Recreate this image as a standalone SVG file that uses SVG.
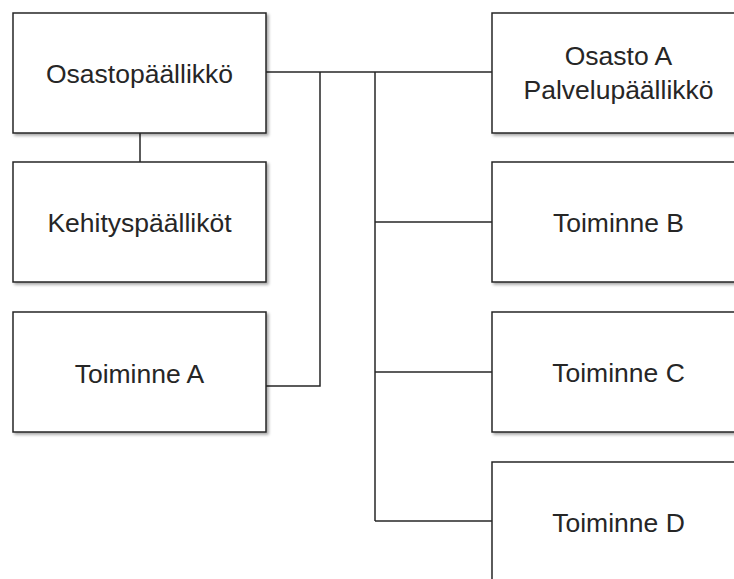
<svg xmlns="http://www.w3.org/2000/svg" width="734" height="579" viewBox="0 0 734 579">
  <style>
    .box { fill: #ffffff; stroke: #262626; stroke-width: 1.5; filter: url(#shadow); }
    .lbl { font-family: "Liberation Sans", Arial, sans-serif; font-size: 26.5px; fill: #262626; text-anchor: middle; }
    .wire { fill: none; stroke: #262626; stroke-width: 1.5; }
  </style>
  <defs>
    <filter id="shadow" x="-10%" y="-10%" width="130%" height="130%">
      <feDropShadow dx="2" dy="2" stdDeviation="1.5" flood-color="#000000" flood-opacity="0.35"/>
    </filter>
  </defs>
  <rect width="734" height="579" fill="#ffffff"/>

  <g id="connectors">
    <path class="wire" d="M140 133 V162"/>
    <path class="wire" d="M266 72 H492"/>
    <path class="wire" d="M320 72 V386 H266"/>
    <path class="wire" d="M375 72 V521"/>
    <path class="wire" d="M375 222 H492"/>
    <path class="wire" d="M375 372 H492"/>
    <path class="wire" d="M375 521 H492"/>
  </g>

  <g id="osastopaallikko">
    <rect class="box" x="13" y="13" width="253" height="120"/>
    <text class="lbl" x="139.5" y="82.5">Osastopäällikkö</text>
  </g>
  <g id="kehityspaallikot">
    <rect class="box" x="13" y="162" width="253" height="120"/>
    <text class="lbl" x="139.5" y="232">Kehityspäälliköt</text>
  </g>
  <g id="toiminne-a">
    <rect class="box" x="13" y="312" width="253" height="120"/>
    <text class="lbl" x="139.5" y="382.5">Toiminne A</text>
  </g>
  <g id="osasto-a">
    <rect class="box" x="492" y="13" width="253" height="120"/>
    <text class="lbl" x="618.5" y="65">Osasto A</text>
    <text class="lbl" x="618.5" y="99">Palvelupäällikkö</text>
  </g>
  <g id="toiminne-b">
    <rect class="box" x="492" y="162" width="253" height="120"/>
    <text class="lbl" x="618.5" y="232">Toiminne B</text>
  </g>
  <g id="toiminne-c">
    <rect class="box" x="492" y="312" width="253" height="120"/>
    <text class="lbl" x="618.5" y="382">Toiminne C</text>
  </g>
  <g id="toiminne-d">
    <rect class="box" x="492" y="462" width="253" height="120"/>
    <text class="lbl" x="618.5" y="532">Toiminne D</text>
  </g>
</svg>
